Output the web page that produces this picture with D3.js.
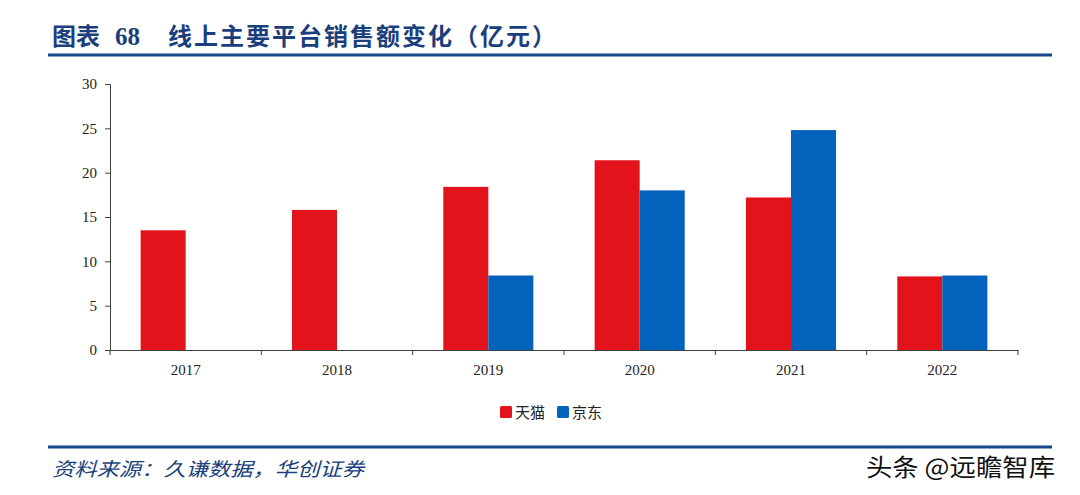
<!DOCTYPE html>
<html><head><meta charset="utf-8">
<script src="https://cdn.jsdelivr.net/npm/d3@7"></script>
<style>body{margin:0;background:#fff}svg{display:block}</style>
</head><body>
<svg id="c" width="1080" height="495"></svg>
<script>
const categories = ["2017","2018","2019","2020","2021","2022"];
const seriesNames = ["天猫","京东"];
const tmall = [13.5, 15.8, 18.4, 21.4, 17.2, 8.3];
const jd = [null, null, 8.4, 18.0, 24.8, 8.4];
const yTicks = [0,5,10,15,20,25,30];
const colors = ["#e3131c","#0362bb"];

const svg = d3.select("#c");
const serif = "'Liberation Serif','Times New Roman',serif";
const cjk = "'Noto Sans CJK SC',sans-serif";
const navy = "#1b3f7d";

// title
const tt = svg.append("g").attr("fill",navy).attr("font-weight","bold");
tt.append("text").attr("x",52).attr("y",45).attr("font-family",cjk).attr("font-size",24).text("图表");
tt.append("text").attr("x",115).attr("y",45).attr("font-family",serif).attr("font-size",25).text("68");
tt.append("text").attr("x",168).attr("y",45).attr("font-family",cjk).attr("font-size",24)
  .attr("textLength",388).attr("lengthAdjust","spacing").text("线上主要平台销售额变化（亿元）");
svg.append("line").attr("x1",48).attr("x2",1052).attr("y1",55).attr("y2",55)
  .attr("stroke","#17478a").attr("stroke-width",3);

const x0 = d3.scaleBand().domain(categories).range([110,1018]);
const x1 = d3.scaleBand().domain([0,1]).range([0,x0.bandwidth()]).paddingOuter(0.68).paddingInner(0);
const y = d3.scaleLinear().domain([0,30]).range([350,84]);

const data = categories.map((c,i)=>({c, v:[tmall[i], jd[i]]}));
const g = svg.append("g");
data.forEach(d=>{
  d.v.forEach((v,j)=>{
    if(v==null) return;
    g.append("rect").attr("x",x0(d.c)+x1(j)).attr("width",x1.bandwidth())
      .attr("y",y(v)).attr("height",y(0)-y(v)).attr("fill",colors[j]);
  });
});

// y axis
const ya = svg.append("g").attr("transform","translate(110,0)")
  .call(d3.axisLeft(y).tickValues(yTicks).tickSize(5).tickPadding(8));
ya.select(".domain").attr("stroke","#404040");
ya.selectAll(".tick line").attr("stroke","#404040");
ya.selectAll("text").attr("font-family",serif).attr("font-size",15).attr("fill","#222");

// x axis
const xa = svg.append("g").attr("transform","translate(0,350)")
  .call(d3.axisBottom(x0).tickSize(0).tickPadding(14));
xa.select(".domain").attr("stroke","#404040");
xa.selectAll("text").attr("font-family",serif).attr("font-size",15).attr("fill","#222");
const bounds = categories.map(c=>x0(c)).concat([x0.range()[1]]);
svg.append("g").selectAll("line").data(bounds).join("line")
  .attr("x1",d=>d).attr("x2",d=>d).attr("y1",350).attr("y2",355).attr("stroke","#404040");

// legend
const lg = svg.append("g");
const lx = [500,557];
seriesNames.forEach((n,i)=>{
  lg.append("rect").attr("x",lx[i]).attr("y",406).attr("width",12).attr("height",12).attr("rx",1.5).attr("fill",colors[i]);
  lg.append("text").attr("x",lx[i]+15).attr("y",418).attr("font-family",cjk).attr("font-size",15).attr("fill","#222").text(n);
});

// bottom
svg.append("line").attr("x1",48).attr("x2",1052).attr("y1",447).attr("y2",447)
  .attr("stroke","#17478a").attr("stroke-width",3);
svg.append("text").attr("x",52).attr("y",476).attr("fill",navy)
  .attr("font-family",cjk).attr("font-style","italic").attr("font-size",19)
  .attr("textLength",312).attr("lengthAdjust","spacingAndGlyphs")
  .text("资料来源：久谦数据，华创证券");
svg.append("text").attr("x",866).attr("y",476).attr("fill","#111")
  .attr("font-family",cjk).attr("font-size",24)
  .attr("textLength",189).attr("lengthAdjust","spacingAndGlyphs").text("头条 @远瞻智库");
</script>
</body></html>
